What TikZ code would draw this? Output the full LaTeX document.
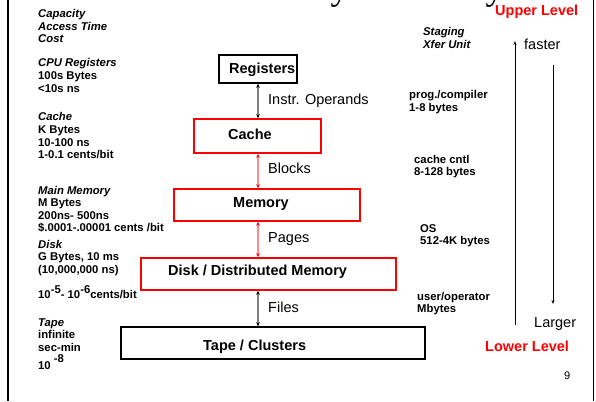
\documentclass[tikz,border=0pt]{standalone}
\usepackage{fontspec}
\setmainfont{Liberation Sans}
\newfontfamily\titlefont{Liberation Serif}
\usetikzlibrary{arrows.meta}
\newcommand{\mlines}[1]{\begin{tabular}[t]{@{}l@{}}#1\end{tabular}}
\begin{document}
\begin{tikzpicture}[x=1pt,y=-1pt,
  lbl/.style={anchor=base west, inner sep=0pt, font=\fontsize{11.3}{12.5}\selectfont\bfseries},
  ilbl/.style={lbl, font=\fontsize{11.3}{12.5}\selectfont\bfseries\itshape},
  box/.style={draw, line width=1.5pt, inner sep=0pt},
  redbox/.style={box, draw=red},
  boxtxt/.style={anchor=base west, inner sep=0pt, font=\fontsize{14.5}{17}\selectfont\bfseries},
  conn/.style={anchor=base west, inner sep=0pt, font=\fontsize{14.5}{17}\selectfont},
  level/.style={anchor=base west, inner sep=0pt, text=red, font=\fontsize{14.5}{17}\selectfont\bfseries},
  garrow/.style={draw=black!50, line width=1.2pt, {Stealth[length=4pt,width=3.5pt,color=black]}-{Stealth[length=4pt,width=3.5pt,color=black]}},
  rarrow/.style={draw=red!45, line width=1.2pt, {Stealth[length=4pt,width=3.5pt,color=red]}-{Stealth[length=4pt,width=3.5pt,color=red]}},
  thin arrow/.style={draw=black, line width=0.7pt}
]
\useasboundingbox[fill=white] (0,0) rectangle (596,401);

% frame
\coordinate (fl1) at (8,0); \coordinate (fl2) at (8,401);
\coordinate (fr1) at (593,0); \coordinate (fr2) at (593,401);
\draw[line width=2.5pt] (fl1) -- (fl2);
\draw[line width=1pt] (fr1) -- (fr2);

% clipped title
\node[anchor=base west, inner sep=0pt, font=\titlefont\fontsize{36.5}{40}\selectfont] (title) at (223,0) {Memory Hierarchy};

% left column
\node[ilbl] (cap) at (38,18) {\mlines{Capacity\\Access Time\\Cost}};
\node[lbl] (cpu) at (38,67) {\mlines{\textit{CPU Registers}\\100s Bytes\\<10s ns}};
\node[lbl] (cac) at (38,121) {\mlines{\textit{Cache}\\K Bytes\\10-100 ns\\1-0.1 cents/bit}};
\node[lbl] (mm) at (38,194) {\mlines{\textit{Main Memory}\\M Bytes\\200ns- 500ns\\\$.0001-.00001 cents /bit}};
\node[lbl] (dk) at (38,248) {\mlines{\textit{Disk}\\G Bytes, 10 ms\\(10,000,000 ns)}};
\node[lbl] (dkc) at (38,298) {10\raisebox{5pt}{-5}- 10\raisebox{5pt}{-6}cents/bit};
\node[lbl] (tp) at (38,326) {\mlines{\textit{Tape}\\infinite\\sec-min\\10 \raisebox{6.5pt}{-8}}};

% right column
\node[ilbl] (stg) at (423,36) {\mlines{Staging\\Xfer Unit}};
\node[lbl] (r1) at (409,99) {\mlines{prog./compiler\\1-8 bytes}};
\node[lbl] (r2) at (414,163) {\mlines{cache cntl\\8-128 bytes}};
\node[lbl] (r3) at (420,232) {\mlines{OS\\512-4K bytes}};
\node[lbl] (r4) at (417,300) {\mlines{user/operator\\Mbytes}};

\node[level] (up) at (495,16) {Upper Level};
\node[level] (low) at (485,351) {Lower Level};
\node[conn] (fast) at (524,50) {faster};
\node[conn] (larg) at (534,327) {Larger};
\node[anchor=base west, inner sep=0pt, font=\fontsize{11}{13}\selectfont] (pg) at (564,379) {9};

\coordinate (ua1) at (515,325); \coordinate (ua2) at (515,41);
\coordinate (da1) at (553,65); \coordinate (da2) at (553,304);
\draw[thin arrow, -{Stealth[length=4pt,width=3pt]}] (ua1) -- (ua2);
\draw[thin arrow, -{Stealth[length=4pt,width=3pt]}] (da1) -- (da2);

% boxes
\node[box, minimum width=78pt, minimum height=28pt] (reg) at (258,69) {};
\node[redbox, minimum width=127pt, minimum height=34pt] (cache) at (257.5,136) {};
\node[redbox, minimum width=186pt, minimum height=32pt] (mem) at (267,205) {};
\node[redbox, minimum width=255pt, minimum height=32pt] (disk) at (268.5,274) {};
\node[box, minimum width=304pt, minimum height=32pt] (tape) at (273,343) {};

\node[boxtxt] (regt) at (229,74) {Registers};
\node[boxtxt] (cachet) at (228,139.5) {Cache};
\node[boxtxt] (memt) at (233,207.5) {Memory};
\node[boxtxt] (diskt) at (168,275.5) {Disk / Distributed Memory};
\node[boxtxt] (tapet) at (203,350) {Tape / Clusters};

% connectors
\coordinate (ax) at (258,0);
\draw[garrow] (reg.south -| ax) -- (cache.north -| ax);
\draw[rarrow] (cache.south -| ax) -- (mem.north -| ax);
\draw[rarrow] (mem.south -| ax) -- (disk.north -| ax);
\draw[garrow] (disk.south -| ax) -- (tape.north -| ax);

\node[conn] (l1) at (268,104) {Instr. Operands};
\node[conn] (l2) at (268,173.5) {Blocks};
\node[conn] (l3) at (268,242.5) {Pages};
\node[conn] (l4) at (268,312) {Files};
\end{tikzpicture}
\end{document}
